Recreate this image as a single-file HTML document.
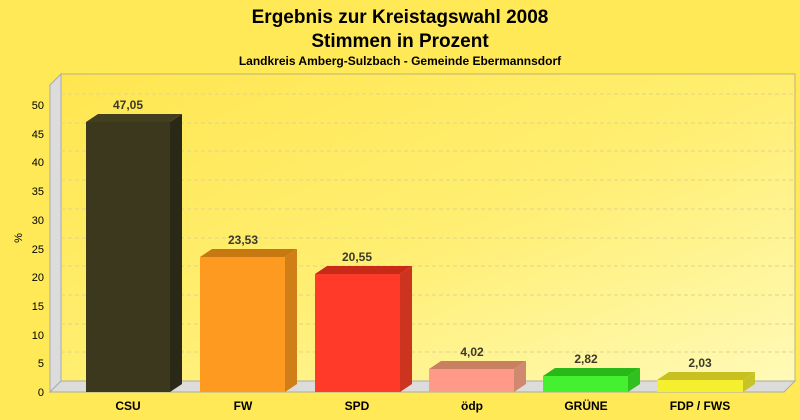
<!DOCTYPE html><html><head><style>body{margin:0}svg{display:block}text{font-family:"Liberation Sans",sans-serif}</style></head><body>
<svg width="800" height="420" xmlns="http://www.w3.org/2000/svg">
<defs><linearGradient id="bg" x1="0" y1="0" x2="1" y2="1"><stop offset="0" stop-color="#ffe650"/><stop offset="0.5" stop-color="#ffee70"/><stop offset="1" stop-color="#fffab8"/></linearGradient></defs>
<rect width="800" height="420" fill="#ffe957"/>
<rect x="61" y="74" width="734" height="307" fill="url(#bg)" stroke="#bfb27a" stroke-width="1"/>
<polygon points="50,85 61,74 61,381 50,392" fill="#dcdcdc" stroke="#aaa" stroke-width="1"/>
<polygon points="50,392 61,381 795,381 784,392" fill="#dcdcdc" stroke="#aaa" stroke-width="1"/>
<g stroke="#e0d48a" stroke-dasharray="4,3" stroke-width="1">
<line x1="61" y1="94" x2="795" y2="94"/><line x1="61" y1="123" x2="795" y2="123"/><line x1="61" y1="151" x2="795" y2="151"/><line x1="61" y1="180" x2="795" y2="180"/><line x1="61" y1="209" x2="795" y2="209"/><line x1="61" y1="238" x2="795" y2="238"/><line x1="61" y1="266" x2="795" y2="266"/><line x1="61" y1="295" x2="795" y2="295"/><line x1="61" y1="324" x2="795" y2="324"/><line x1="61" y1="352" x2="795" y2="352"/>
</g>
<g font-size="11" text-anchor="end" fill="#000">
<text x="44" y="109">50</text><text x="44" y="138">45</text><text x="44" y="166">40</text><text x="44" y="195">35</text><text x="44" y="224">30</text><text x="44" y="253">25</text><text x="44" y="281">20</text><text x="44" y="310">15</text><text x="44" y="339">10</text><text x="44" y="367">5</text><text x="44" y="396">0</text>
</g>
<text x="22" y="238" font-size="11" transform="rotate(-90 22 238)" text-anchor="middle">%</text>
<g id="bars">
<!-- CSU -->
<polygon points="86,122 98,114 182,114 170,122" fill="#2e2c1a" opacity=".9"/><polygon points="170,122 182,114 182,384 170,392" fill="#2a2816"/><rect x="86" y="122" width="84" height="270" fill="#3c381e"/>
<polygon points="200,257 212,249 297,249 285,257" fill="#c87810"/><polygon points="285,257 297,249 297,384 285,392" fill="#d07e18"/><rect x="200" y="257" width="85" height="135" fill="#ff9a20"/>
<polygon points="315,274 327,266 412,266 400,274" fill="#c82a18"/><polygon points="400,274 412,266 412,384 400,392" fill="#cc3420"/><rect x="315" y="274" width="85" height="118" fill="#ff3a28"/>
<polygon points="429,369 441,361 526,361 514,369" fill="#c88060"/><polygon points="514,369 526,361 526,384 514,392" fill="#d08870"/><rect x="429" y="369" width="85" height="23" fill="#ff9a88"/>
<polygon points="543,376 555,368 640,368 628,376" fill="#28b818"/><polygon points="628,376 640,368 640,384 628,392" fill="#30c020"/><rect x="543" y="376" width="85" height="16" fill="#44f030"/>
<polygon points="657,380 669,372 755,372 743,380" fill="#c8c020"/><polygon points="743,380 755,372 755,384 743,392" fill="#c8c428"/><rect x="657" y="380" width="86" height="12" fill="#f4f030"/>
</g>
<g font-size="12" font-weight="bold" fill="#3a3a2a" text-anchor="middle">
<text x="128" y="109">47,05</text><text x="243" y="244">23,53</text><text x="357" y="261">20,55</text><text x="472" y="356">4,02</text><text x="586" y="363">2,82</text><text x="700" y="367">2,03</text>
</g>
<g font-size="12" font-weight="bold" fill="#000" text-anchor="middle">
<text x="128" y="410">CSU</text><text x="243" y="410">FW</text><text x="357" y="410">SPD</text><text x="472" y="410">ödp</text><text x="586" y="410">GRÜNE</text><text x="700" y="410">FDP / FWS</text>
</g>
<g font-weight="bold" text-anchor="middle" fill="#000">
<text x="400" y="23" font-size="19">Ergebnis zur Kreistagswahl 2008</text>
<text x="400" y="47" font-size="19">Stimmen in Prozent</text>
<text x="400" y="65" font-size="12">Landkreis Amberg-Sulzbach - Gemeinde Ebermannsdorf</text>
</g>
</svg></body></html>
